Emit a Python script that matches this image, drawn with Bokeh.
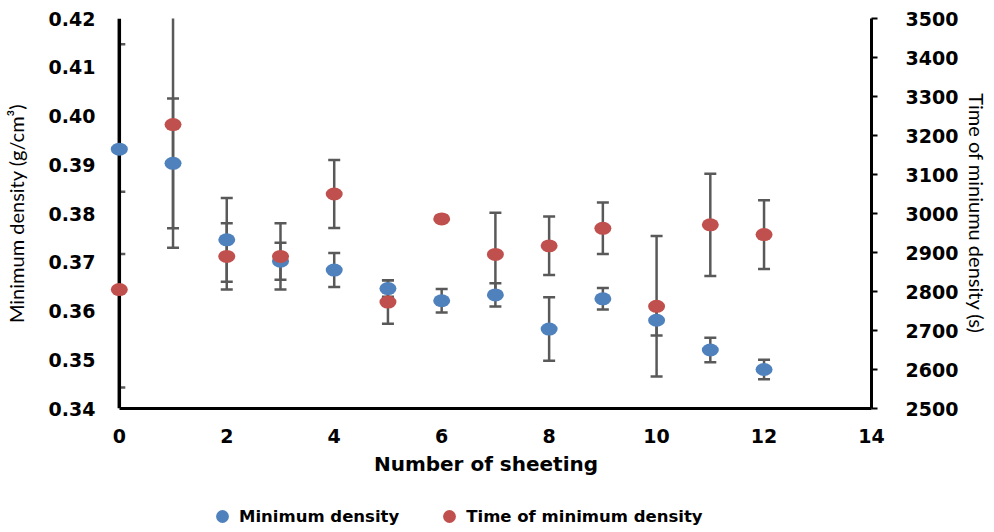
from bokeh.plotting import figure
from bokeh.layouts import column
from bokeh.models import (Range1d, LinearAxis, FixedTicker, Whisker, TeeHead,
                          ColumnDataSource, BoxAnnotation, Span, Legend, LegendItem)
from bokeh.embed import file_html
from bokeh.resources import INLINE

# Number of sheeting passes
sheets = [0, 1, 2, 3, 4, 5, 6, 7, 8, 9, 10, 11, 12]
# Minimum density (g/cm3) with its error
density = [0.3932, 0.3903, 0.3746, 0.3702, 0.3684, 0.3646, 0.3621,
           0.3633, 0.3563, 0.3625, 0.3581, 0.3520, 0.3480]
density_err = [0.0215, 0.0133, 0.0086, 0.0038, 0.0035, 0.0017, 0.0024,
               0.0024, 0.0065, 0.0022, 0.0031, 0.0025, 0.0020]
# Time at which the minimum density occurs (s) with its error
time_min = [2805, 3228, 2890, 2890, 3050, 2773, 2986,
            2895, 2917, 2962, 2762, 2971, 2946]
time_err = [251, 316, 85, 85, 87, 56, 8, 107, 75, 66, 180, 131, 88]

x_ticks = [0, 2, 4, 6, 8, 10, 12, 14]
left_ticks = [0.34, 0.35, 0.36, 0.37, 0.38, 0.39, 0.40, 0.41, 0.42]
right_ticks = [2500, 2600, 2700, 2800, 2900, 3000, 3100, 3200, 3300, 3400, 3500]

BLUE = "#4F81BD"
RED = "#C0504D"
ERR = "#595959"
TICK_FONT = "DejaVu Sans"
TITLE_FONT = "Lato"

src = ColumnDataSource(dict(
    x=sheets,
    d=density,
    d_lo=[v - e for v, e in zip(density, density_err)],
    d_hi=[v + e for v, e in zip(density, density_err)],
    t=time_min,
    t_lo=[v - e for v, e in zip(time_min, time_err)],
    t_hi=[v + e for v, e in zip(time_min, time_err)],
))

p = figure(width=994, height=486, output_backend="svg", toolbar_location=None,
           x_range=Range1d(-0.35, 14), y_range=Range1d(0.34, 0.42),
           min_border_left=99, min_border_right=123,
           min_border_top=18, min_border_bottom=78)
p.extra_y_ranges = {"time": Range1d(2500, 3500)}
p.outline_line_color = None
p.xgrid.visible = False
p.ygrid.visible = False
p.background_fill_color = "white"
p.border_fill_color = "white"

# bottom axis
xa = p.xaxis[0]
xa.ticker = FixedTicker(ticks=x_ticks)
xa.bounds = (0, 14)
xa.axis_line_width = 3
xa.axis_line_color = "black"
xa.major_tick_line_color = None
xa.minor_tick_line_color = None
xa.major_tick_out = 0
xa.major_tick_in = 0
xa.major_label_standoff = 20
xa.major_label_text_font = TICK_FONT
xa.major_label_text_font_style = "bold"
xa.major_label_text_font_size = "19px"
xa.major_label_text_color = "black"
xa.axis_label = "Number of sheeting"
xa.axis_label_text_font = TICK_FONT
xa.axis_label_text_font_style = "bold"
xa.axis_label_text_font_size = "20px"
xa.axis_label_text_color = "black"
xa.axis_label_standoff = 6

# left axis (its line is drawn separately at x = 0)
ya = p.yaxis[0]
ya.ticker = FixedTicker(ticks=left_ticks)
ya.axis_line_color = None
ya.major_tick_line_color = None
ya.minor_tick_line_color = None
ya.major_tick_out = 0
ya.major_tick_in = 0
ya.major_label_standoff = 5
ya.major_label_text_font = TICK_FONT
ya.major_label_text_font_style = "bold"
ya.major_label_text_font_size = "19px"
ya.major_label_text_color = "black"
ya.major_label_overrides = {v: f"{v:.2f}" for v in left_ticks}
ya.axis_label = "Minimum density (g/cm\u00b3)"
ya.axis_label_text_font = TITLE_FONT
ya.axis_label_text_font_style = "normal"
ya.axis_label_text_font_size = "20px"
ya.axis_label_text_color = "black"
ya.axis_label_standoff = 18

# right axis
ra = LinearAxis(y_range_name="time", ticker=FixedTicker(ticks=right_ticks))
ra.axis_line_width = 3
ra.axis_line_color = "black"
ra.major_tick_line_width = 2
ra.major_tick_line_color = "black"
ra.minor_tick_line_color = None
ra.major_tick_out = 6
ra.major_tick_in = 0
ra.major_label_standoff = 28
ra.major_label_text_font = TICK_FONT
ra.major_label_text_font_style = "bold"
ra.major_label_text_font_size = "19px"
ra.major_label_text_color = "black"
ra.axis_label = "Time of miniumu density (s)"
ra.axis_label_text_font = TITLE_FONT
ra.axis_label_text_font_style = "normal"
ra.axis_label_text_font_size = "20px"
ra.axis_label_text_color = "black"
ra.axis_label_standoff = 4
p.add_layout(ra, "right")

# error bars
for lo, hi, rng in (("d_lo", "d_hi", "default"), ("t_lo", "t_hi", "time")):
    w = Whisker(source=src, base="x", lower=lo, upper=hi, y_range_name=rng,
                line_color=ERR, line_width=2.5, level="underlay",
                upper_head=TeeHead(size=12, line_color=ERR, line_width=2.5),
                lower_head=TeeHead(size=12, line_color=ERR, line_width=2.5))
    p.add_layout(w)

# the plot area ends at x = 0: hide anything left of it, then draw the axis line
p.add_layout(BoxAnnotation(right=0, fill_color="white", fill_alpha=1.0,
                           line_color=None, level="underlay"))
p.add_layout(Span(location=0, dimension="height", line_color="black",
                  line_width=3.5, level="underlay"))

p.ellipse("x", "d", width=17, height=13, width_units="screen",
          height_units="screen", source=src, fill_color=BLUE, line_color=None)
p.ellipse("x", "t", width=17, height=13, width_units="screen",
          height_units="screen", source=src, fill_color=RED, line_color=None,
          y_range_name="time")

# legend strip under the chart; its ranges keep the series out of view so
# only the legend entries are drawn
lg = figure(width=994, height=46, output_backend="svg", toolbar_location=None,
            x_axis_location=None, y_axis_location=None,
            x_range=Range1d(-3, -2), y_range=Range1d(0, 1),
            min_border_left=0, min_border_right=0,
            min_border_top=0, min_border_bottom=0)
lg.xgrid.visible = False
lg.ygrid.visible = False
lg.outline_line_color = None
lg_d = lg.scatter("x", "d", source=src, marker="circle", fill_color=BLUE,
                  line_color=None)
lg_t = lg.scatter("x", "d", source=src, marker="circle", fill_color=RED,
                  line_color=None)
legend = Legend(items=[LegendItem(label="Minimum density", renderers=[lg_d]),
                       LegendItem(label="Time of minimum density", renderers=[lg_t])],
                orientation="horizontal", location=(106, 0),
                label_text_font=TICK_FONT, label_text_font_style="bold",
                label_text_font_size="16.5px", label_text_color="black",
                glyph_width=32, glyph_height=32, label_standoff=1, spacing=34,
                padding=0, margin=0, border_line_color=None,
                background_fill_alpha=0)
lg.add_layout(legend, "center")

layout = column(p, lg, spacing=0)
open("out.html", "w").write(file_html(layout, INLINE))
